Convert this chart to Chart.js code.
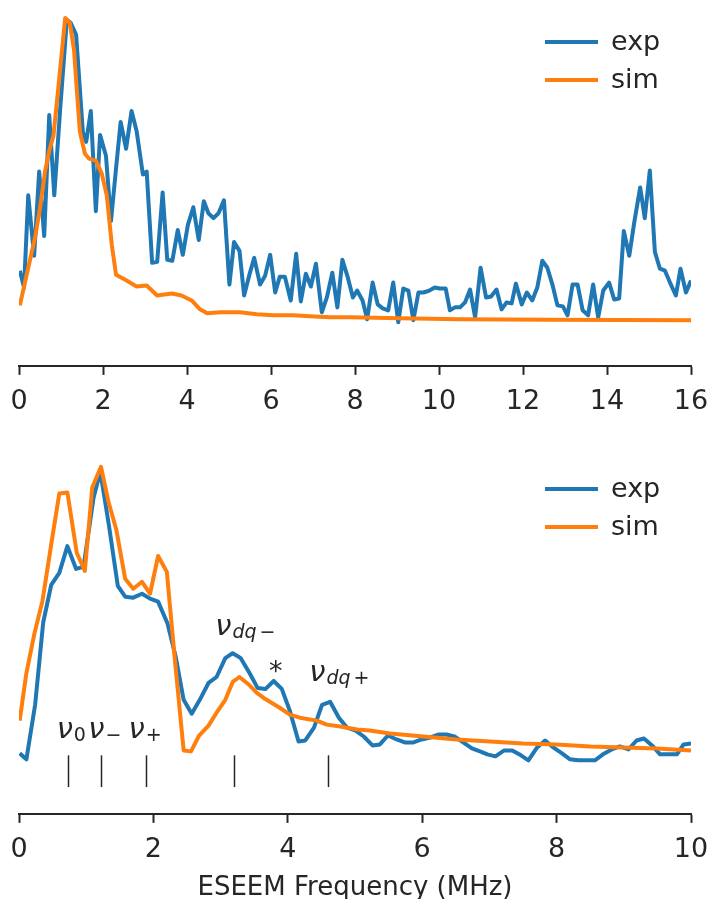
<!DOCTYPE html>
<html lang="en">
<head>
<meta charset="UTF-8">
<title>ESEEM spectra</title>
<script src="https://cdn.jsdelivr.net/npm/chart.js@4"></script>
<style>
  body { margin: 0; background: #fff; }
  canvas { position: absolute; left: 0; }
  #top { top: 0; }
  #bottom { top: 430px; }
</style>
</head>
<body>
<canvas id="top" width="712" height="430"></canvas>
<canvas id="bottom" width="712" height="469"></canvas>
<script>
// upper panel: 0-16 MHz, intensity in arbitrary units
const topExpFreq = [0.02,0.12,0.22,0.36,0.48,0.60,0.72,0.84,0.98,1.14,
  1.23,1.36,1.52,1.60,1.71,1.83,1.93,2.07,2.19,2.31,
  2.42,2.55,2.68,2.80,2.95,3.04,3.17,3.29,3.42,3.53,
  3.65,3.78,3.90,4.02,4.15,4.28,4.40,4.51,4.63,4.75,
  4.88,5.01,5.12,5.25,5.36,5.48,5.60,5.74,5.86,5.98,
  6.10,6.21,6.33,6.47,6.60,6.71,6.83,6.95,7.07,7.21,
  7.33,7.46,7.58,7.70,7.83,7.95,8.05,8.18,8.29,8.42,
  8.54,8.66,8.79,8.91,9.03,9.15,9.27,9.39,9.51,9.63,
  9.77,9.90,10.02,10.16,10.26,10.38,10.50,10.62,10.74,10.86,
  10.99,11.12,11.24,11.37,11.49,11.61,11.73,11.83,11.97,12.09,
  12.22,12.34,12.46,12.58,12.70,12.82,12.95,13.06,13.18,13.30,
  13.42,13.55,13.67,13.79,13.91,14.05,14.17,14.29,14.40,14.53,
  14.65,14.79,14.90,15.02,15.14,15.26,15.38,15.50,15.64,15.75,
  15.88,16.0];
const topExpInt = [52,35,128,67,152,87,209,128,215,305,
  302,290,192,182,213,112,189,168,102,155,
  202,175,213,193,149,152,60,61,131,63,
  62,93,68,98,116,83,122,110,105,110,
  123,38,81,72,27,47,65,38,47,68,
  30,46,46,22,69,21,49,36,59,10,
  25,50,15,63,45,25,32,22,3,40,
  18,14,12,40,0,34,32,2,30,30,
  32,35,34,34,12,15,15,20,33,5,
  55,25,26,33,13,20,19,39,18,30,
  22,35,62,55,38,17,16,7,38,38,
  12,7,38,5,32,40,23,24,92,67,
  101,136,105,153,71,54,52,40,27,54,
  30,42];
const topSimFreq = [0.02,0.22,0.38,0.50,0.62,0.72,0.82,0.94,1.10,1.21,
  1.31,1.37,1.45,1.57,1.67,1.83,1.97,2.09,2.21,2.31,
  2.52,2.80,3.04,3.29,3.64,3.87,4.11,4.31,4.48,4.79,
  5.26,5.66,6.05,6.53,6.93,7.40,7.88,9.07,10.5,12.64,16.0];
const topSimInt = [17,55,85,115,152,173,188,238,307,302,
  275,238,192,170,165,163,150,128,78,48,
  43,36,37,27,29,27,22,13,9,10,
  10,8,7,7,6,5,5,4,3,2.5,2];

// lower panel: 0-10 MHz
const lowExpFreq = [0.01,0.11,0.24,0.36,0.48,0.60,0.72,0.85,0.96,1.11,
  1.21,1.34,1.47,1.58,1.70,1.83,1.95,2.07,2.21,2.33,
  2.45,2.57,2.69,2.82,2.94,3.07,3.18,3.30,3.43,3.55,
  3.67,3.79,3.91,4.03,4.16,4.26,4.39,4.51,4.63,4.76,
  4.88,5.01,5.13,5.26,5.37,5.49,5.62,5.74,5.87,5.99,
  6.12,6.24,6.36,6.48,6.61,6.74,6.86,6.97,7.09,7.22,
  7.34,7.47,7.58,7.71,7.83,7.95,8.08,8.20,8.32,8.45,
  8.57,8.69,8.82,8.94,9.07,9.19,9.30,9.42,9.54,9.66,
  9.79,9.89,10.0];
const lowExpInt = [14,8,63,146,184,196,223,200,202,272,
  298,243,183,172,171,175,170,167,145,112,
  68,54,68,85,91,110,115,110,95,80,
  79,87,79,57,26,27,40,63,66,50,
  40,37,31,22,23,32,28,25,25,28,
  30,33,33,31,25,19,16,13,11,17,
  17,12,7,20,27,20,14,8,7,7,
  7,13,18,21,18,27,29,22,13,13,
  13,23,24];
const lowSimFreq = [0.01,0.11,0.23,0.35,0.48,0.60,0.72,0.86,0.98,1.09,
  1.22,1.33,1.45,1.58,1.70,1.83,1.95,2.07,2.20,2.32,
  2.45,2.56,2.68,2.82,2.94,3.07,3.18,3.28,3.41,3.54,
  3.66,3.88,4.03,4.18,4.43,4.58,4.78,5.03,5.22,5.52,
  6.02,6.51,7.01,7.50,8.00,8.50,8.99,9.49,10.0];
const lowSimInt = [47,95,135,168,225,276,277,216,198,282,
  303,268,239,190,180,187,175,213,197,108,
  17,16,32,42,55,68,86,91,84,75,
  69,60,53,50,47,43,41,38,37,34,
  31,28,26,24,23,21,20,19,17];

// expected line positions (MHz) and their labels
const markFreqs = [0.725, 1.22, 1.885, 3.2, 4.6];
const markSpan = [12, -20];
const markLabels = [
  { x: 0.56, y: 30, sub: [['0', false]] },
  { x: 1.03, y: 30, sub: [['\u2212', false]] },
  { x: 1.63, y: 30, sub: [['+', false]] },
  { x: 2.92, y: 133, sub: [['dq', true], ['\u2212', false]] },
  { x: 4.32, y: 87, sub: [['dq', true], ['+', false]] }
];
const starLabel = { x: 3.82, y: 88 };

const BLUE = '#1f77b4', ORANGE = '#ff7f0e', INK = '#262626';
const FONT = '"DejaVu Sans", sans-serif';

function pts(xs, ys) { return xs.map((x, i) => ({ x: x, y: ys[i] })); }

// legend drawn inside the upper right corner of the plot
const cornerLegend = {
  id: 'cornerLegend',
  afterDatasetsDraw(chart, args, opts) {
    const { ctx, chartArea } = chart;
    ctx.save();
    ctx.font = '27px ' + FONT;
    ctx.textBaseline = 'alphabetic';
    chart.data.datasets.forEach((ds, i) => {
      const y = chartArea.top + opts.top + i * 38;
      ctx.strokeStyle = ds.borderColor;
      ctx.lineWidth = 4;
      ctx.beginPath();
      ctx.moveTo(chartArea.right - 146, y);
      ctx.lineTo(chartArea.right - 93, y);
      ctx.stroke();
      ctx.fillStyle = INK;
      ctx.fillText(ds.label, chartArea.right - 80, y + 8);
    });
    ctx.restore();
  }
};

// short vertical marks with nu labels
const lineMarks = {
  id: 'lineMarks',
  afterDatasetsDraw(chart, args, opts) {
    if (!opts.show) return;
    const { ctx } = chart;
    const xs = chart.scales.x, ys = chart.scales.y;
    ctx.save();
    ctx.strokeStyle = INK;
    ctx.lineWidth = 1.5;
    markFreqs.forEach(f => {
      const px = Math.round(xs.getPixelForValue(f)) + 0.5;
      ctx.beginPath();
      ctx.moveTo(px, ys.getPixelForValue(markSpan[0]));
      ctx.lineTo(px, ys.getPixelForValue(markSpan[1]));
      ctx.stroke();
    });
    ctx.fillStyle = INK;
    ctx.textBaseline = 'alphabetic';
    ctx.textAlign = 'left';
    markLabels.forEach(l => {
      let px = xs.getPixelForValue(l.x);
      const py = ys.getPixelForValue(l.y);
      ctx.font = 'italic 29px ' + FONT;
      ctx.fillText('\u03bd', px, py);
      px += ctx.measureText('\u03bd').width + 1;
      l.sub.forEach(([t, it], k) => {
        if (k > 0) px += 3;
        ctx.font = (it ? 'italic ' : '') + '19px ' + FONT;
        ctx.fillText(t, px, py + 3);
        px += ctx.measureText(t).width;
      });
    });
    ctx.font = '27px ' + FONT;
    ctx.textAlign = 'center';
    ctx.fillText('*', xs.getPixelForValue(starLabel.x), ys.getPixelForValue(starLabel.y));
    ctx.restore();
  }
};

function xAxis(max, title) {
  return {
    type: 'linear', min: 0, max: max,
    ticks: { stepSize: 2, color: INK, padding: 3, font: { family: FONT, size: 27, lineHeight: 1.82 } },
    grid: { display: true, drawOnChartArea: false, drawTicks: true, tickLength: 9, tickWidth: 2, tickColor: INK },
    border: { display: true, color: INK, width: 2 },
    title: title
      ? { display: true, text: title, color: INK, padding: { top: -3, bottom: -2 }, font: { family: FONT, size: 26, lineHeight: 1 } }
      : { display: false }
  };
}

function makeChart(id, exp, sim, xmax, ymin, ymax, padding, legendTop, title, marks) {
  return new Chart(document.getElementById(id), {
    type: 'line',
    data: {
      datasets: [
        { label: 'exp', data: exp, borderColor: BLUE, borderWidth: 4, pointRadius: 0, order: 2, borderJoinStyle: 'round' },
        { label: 'sim', data: sim, borderColor: ORANGE, borderWidth: 4, pointRadius: 0, order: 1, borderJoinStyle: 'round' }
      ]
    },
    options: {
      responsive: false,
      animation: false,
      devicePixelRatio: 1,
      layout: { padding: padding },
      scales: {
        x: xAxis(xmax, title),
        y: { type: 'linear', display: false, min: ymin, max: ymax }
      },
      plugins: {
        legend: { display: false },
        tooltip: { enabled: false },
        cornerLegend: { top: legendTop },
        lineMarks: { show: marks }
      }
    },
    plugins: [cornerLegend, lineMarks]
  });
}

makeChart('top', pts(topExpFreq, topExpInt), pts(topSimFreq, topSimInt), 16, -44, 317,
  { top: 8, bottom: 0, left: 19, right: 21 }, 34, null, false);
makeChart('bottom', pts(lowExpFreq, lowExpInt), pts(lowSimFreq, lowSimInt), 10, -47, 330,
  { top: 10, bottom: 0, left: 19, right: 21 }, 49, 'ESEEM Frequency (MHz)', true);
</script>
</body>
</html>
